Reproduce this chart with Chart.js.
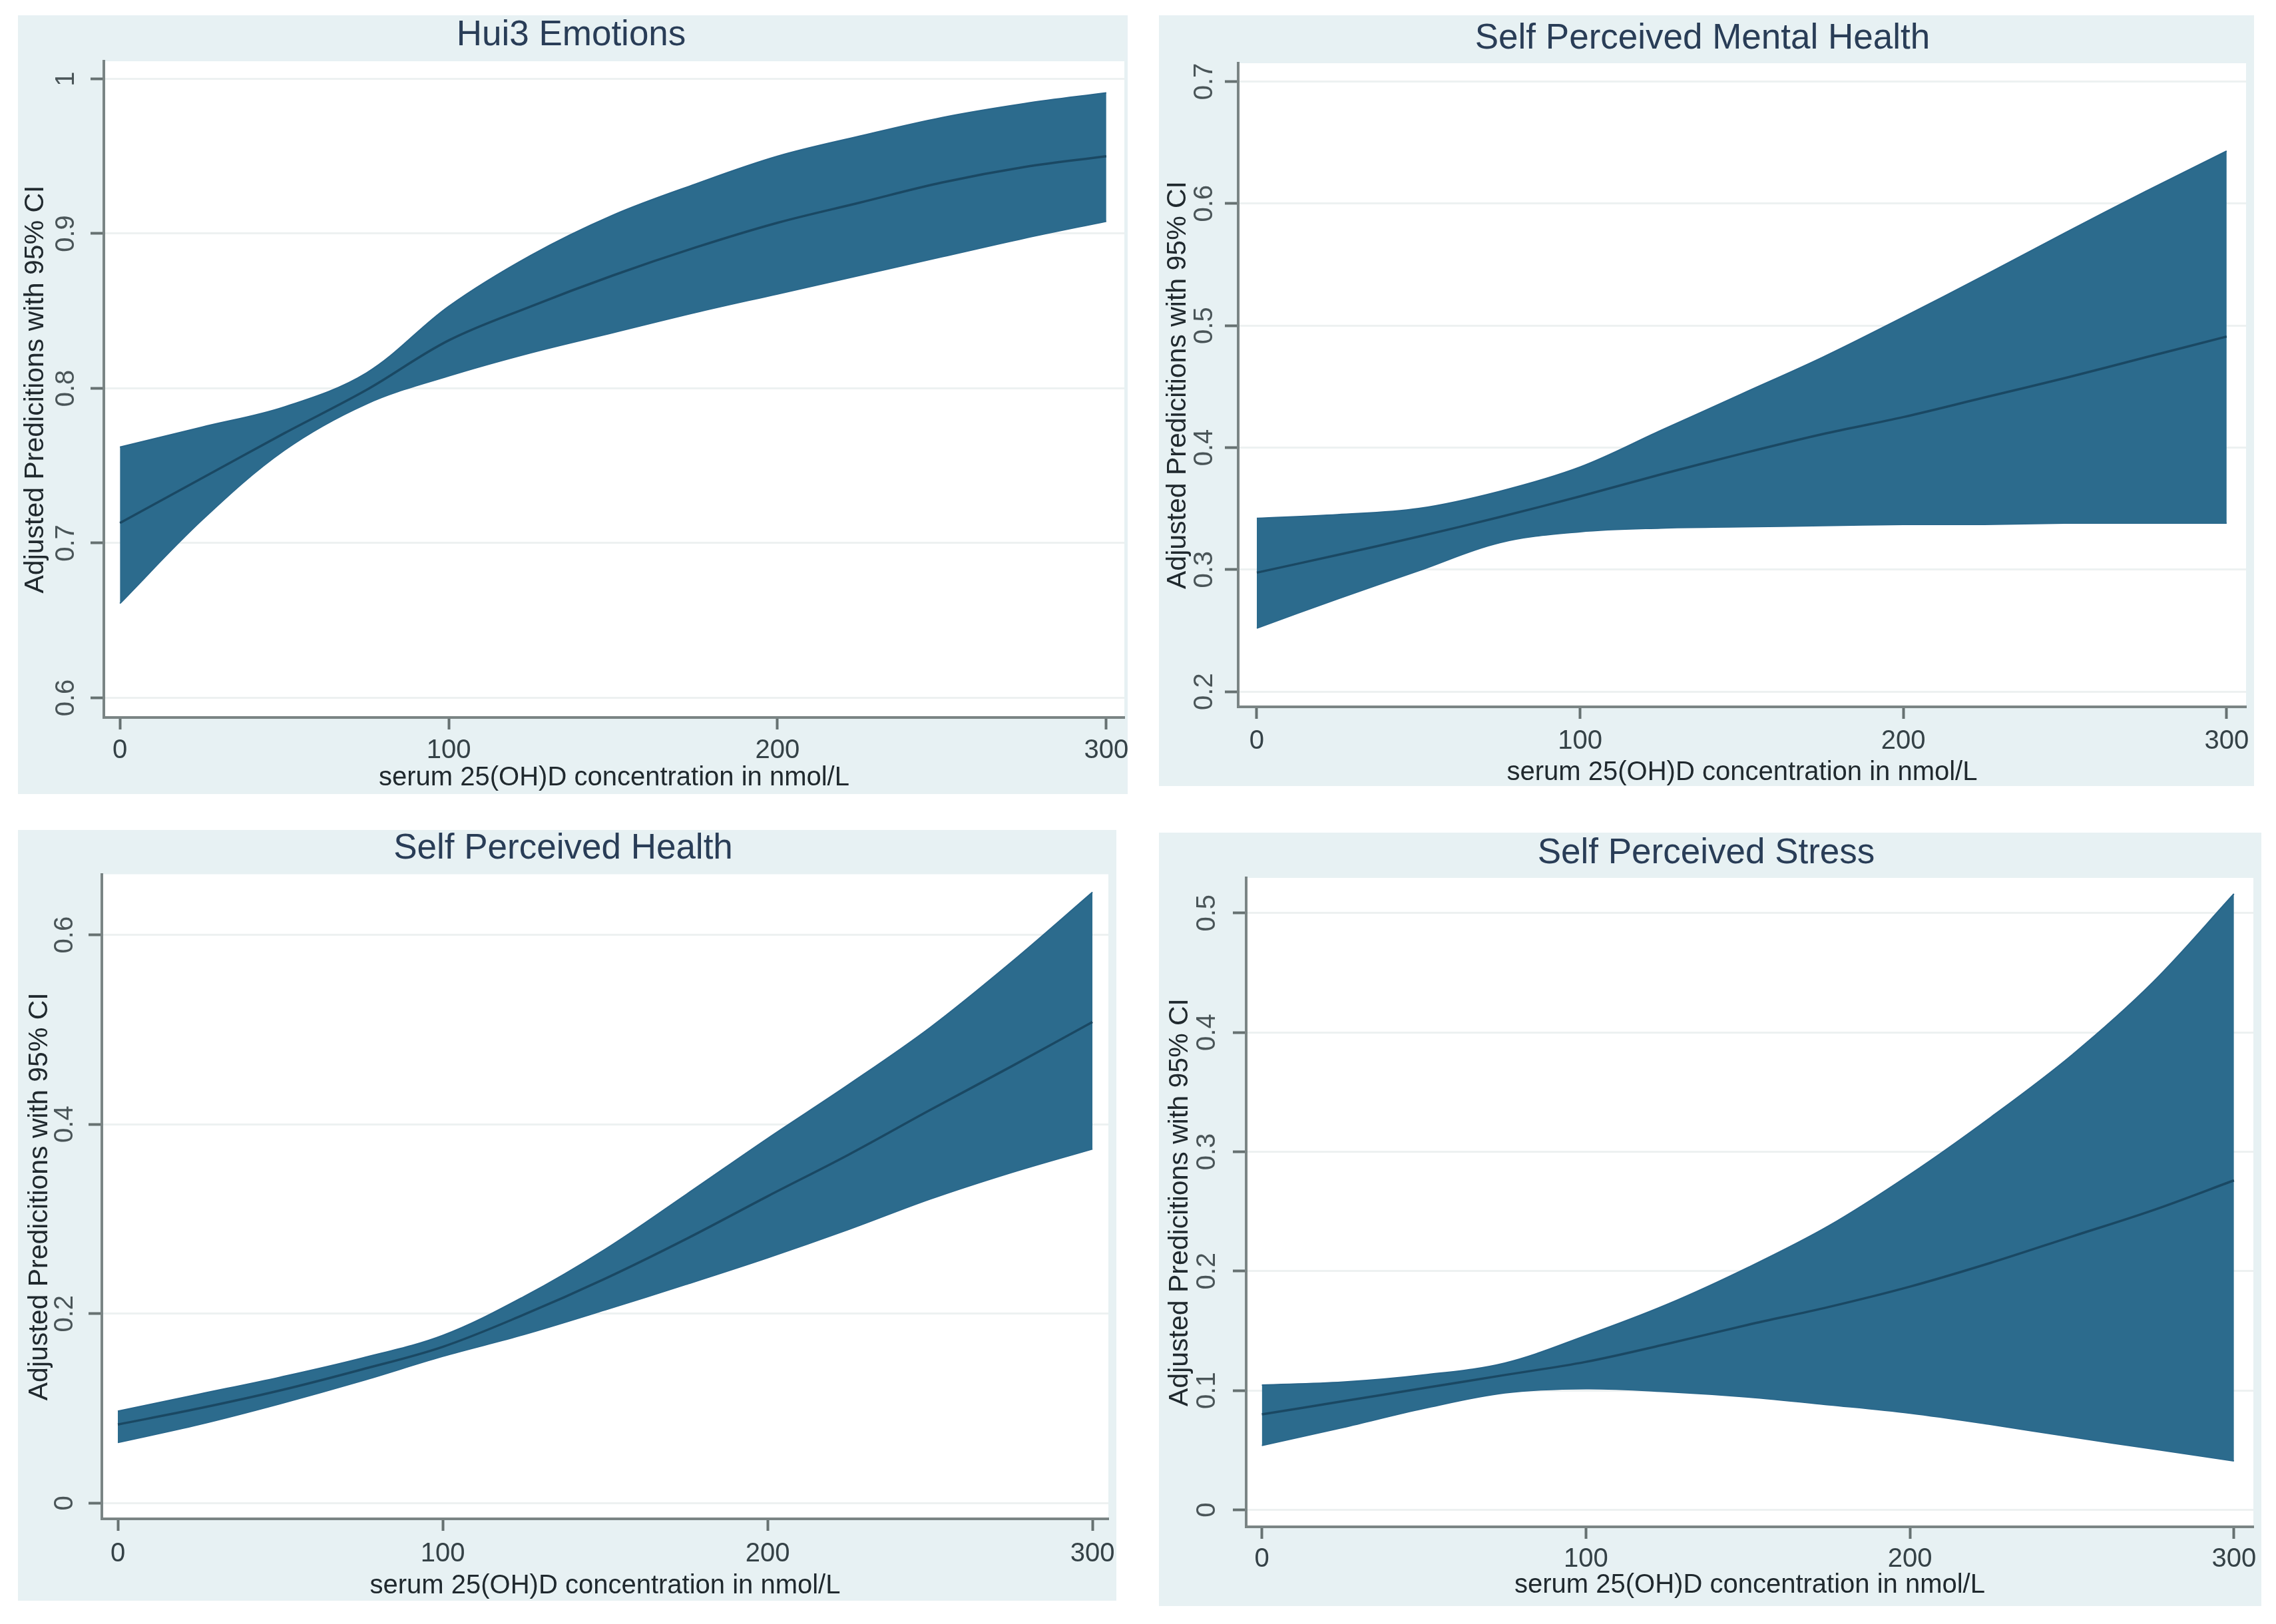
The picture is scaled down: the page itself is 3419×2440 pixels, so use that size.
<!DOCTYPE html>
<html><head><meta charset="utf-8">
<script src="https://cdn.jsdelivr.net/npm/chart.js@4.4.1/dist/chart.umd.min.js"></script>
<style>
html,body{margin:0;padding:0;background:#ffffff;}
body{width:3419px;height:2440px;position:relative;overflow:hidden;}
canvas{position:absolute;background:#e7f1f3;}
</style></head><body>
<canvas id="c1"></canvas>
<canvas id="c2"></canvas>
<canvas id="c3"></canvas>
<canvas id="c4"></canvas>
<script>
// ---- data ----
const xValues = [0, 25, 50, 75, 100, 125, 150, 175, 200, 225, 250, 275, 300];
const xTicks = [0, 100, 200, 300];

const hui3Mean  = [0.713, 0.742, 0.771, 0.799, 0.831, 0.853, 0.873, 0.891, 0.907, 0.920, 0.933, 0.943, 0.950];
const hui3Upper = [0.762, 0.775, 0.788, 0.810, 0.853, 0.886, 0.912, 0.932, 0.950, 0.963, 0.975, 0.984, 0.991];
const hui3Lower = [0.661, 0.715, 0.760, 0.790, 0.808, 0.823, 0.836, 0.849, 0.861, 0.873, 0.885, 0.897, 0.908];
const hui3Ticks = [0.6, 0.7, 0.8, 0.9, 1];

const mentalMean  = [0.2975, 0.312, 0.327, 0.343, 0.360, 0.378, 0.395, 0.411, 0.425, 0.441, 0.457, 0.474, 0.491];
const mentalUpper = [0.342, 0.345, 0.350, 0.364, 0.384, 0.414, 0.444, 0.474, 0.507, 0.541, 0.576, 0.610, 0.643];
const mentalLower = [0.252, 0.276, 0.299, 0.322, 0.331, 0.334, 0.335, 0.336, 0.337, 0.337, 0.338, 0.338, 0.338];
const mentalTicks = [0.2, 0.3, 0.4, 0.5, 0.6, 0.7];

const healthMean  = [0.083, 0.100, 0.119, 0.141, 0.165, 0.199, 0.237, 0.279, 0.324, 0.368, 0.415, 0.461, 0.508];
const healthUpper = [0.097, 0.115, 0.133, 0.153, 0.177, 0.218, 0.268, 0.326, 0.385, 0.442, 0.502, 0.571, 0.645];
const healthLower = [0.064, 0.083, 0.105, 0.129, 0.155, 0.178, 0.204, 0.231, 0.259, 0.289, 0.321, 0.349, 0.374];
const healthTicks = [0, 0.2, 0.4, 0.6];

const stressMean  = [0.080, 0.091, 0.102, 0.113, 0.124, 0.139, 0.155, 0.170, 0.187, 0.207, 0.229, 0.251, 0.276];
const stressUpper = [0.1045, 0.107, 0.113, 0.123, 0.146, 0.172, 0.203, 0.238, 0.281, 0.329, 0.381, 0.442, 0.516];
const stressLower = [0.054, 0.069, 0.085, 0.098, 0.1015, 0.099, 0.0945, 0.088, 0.081, 0.0715, 0.061, 0.051, 0.041];
const stressTicks = [0, 0.1, 0.2, 0.3, 0.4, 0.5];

const yAxisTitle = 'Adjusted Predicitions with 95% CI';
const xAxisTitle = 'serum 25(OH)D concentration in nmol/L';

// ---- panel layout ----
const panels = [
  {id:'c1', title:'Hui3 Emotions', mean:hui3Mean, upper:hui3Upper, lower:hui3Lower, yTicks:hui3Ticks,
   yMin:0.5873, yMax:1.0114, xMin:-4.9, xMax:305.5, box:[27,23,1667,1170], yW:129, xH:115, right:5,
   titlePad:[3.5,12.5], yTickPad:8, yTitlePad:6.5, xTickPad:12, xTitlePad:4},
  {id:'c2', title:'Self Perceived Mental Health', mean:mentalMean, upper:mentalUpper, lower:mentalLower, yTicks:mentalTicks,
   yMin:0.1875, yMax:0.715, xMin:-5.76, xMax:306, box:[1741,23,1645,1158], yW:119, xH:119, right:12,
   titlePad:[8.5,10.5], yTickPad:2, yTitlePad:8.5, xTickPad:14, xTitlePad:0},
  {id:'c3', title:'Self Perceived Health', mean:healthMean, upper:healthUpper, lower:healthLower, yTicks:healthTicks,
   yMin:-0.0166, yMax:0.664, xMin:-4.92, xMax:304.9, box:[27,1247,1650,1158], yW:126, xH:123, right:12,
   titlePad:[1.5,12], yTickPad:7, yTitlePad:12.5, xTickPad:15, xTitlePad:2},
  {id:'c4', title:'Self Perceived Stress', mean:stressMean, upper:stressUpper, lower:stressLower, yTicks:stressTicks,
   yMin:-0.0142, yMax:0.5294, xMin:-4.85, xMax:306, box:[1741,1251,1656,1162], yW:131, xH:119, right:12,
   titlePad:[4.5,10.5], yTickPad:10, yTitlePad:11.5, xTickPad:11, xTitlePad:11}
];

const FONT = "'Liberation Sans', Arial, Helvetica, sans-serif";
const BAND = '#2c6b8d';
const BAND_EDGE = '#28658a';
const LINE = '#1a4863';

const plotBg = {
  id: 'plotBg',
  beforeDraw(chart) {
    const a = chart.chartArea; const ctx = chart.ctx;
    ctx.save(); ctx.fillStyle = '#ffffff';
    ctx.fillRect(a.left, a.top, a.right - a.left, a.bottom - a.top);
    ctx.restore();
  }
};

function pts(arr) { return xValues.map((x, i) => ({x: x, y: arr[i]})); }
function fmt(v) { return String(Number(v.toFixed(2))); }

panels.forEach(p => {
  const cv = document.getElementById(p.id);
  cv.width = p.box[2]; cv.height = p.box[3];
  cv.style.left = p.box[0] + 'px'; cv.style.top = p.box[1] + 'px';
  cv.style.width = p.box[2] + 'px'; cv.style.height = p.box[3] + 'px';
  new Chart(cv, {
    type: 'line',
    data: {
      datasets: [
        {label:'mean', data: pts(p.mean), borderColor: LINE, borderWidth: 3.5, pointRadius: 0, fill: false, tension: 0.35},
        {label:'upper', data: pts(p.upper), borderColor: BAND_EDGE, borderWidth: 2, pointRadius: 0, backgroundColor: BAND, fill: '+1', tension: 0.35},
        {label:'lower', data: pts(p.lower), borderColor: BAND_EDGE, borderWidth: 2, pointRadius: 0, fill: false, tension: 0.35}
      ]
    },
    options: {
      responsive: false, animation: false, devicePixelRatio: 1,
      layout: {padding: {left: 0, right: p.right, top: 0, bottom: 0}},
      plugins: {
        legend: {display: false}, tooltip: {enabled: false},
        title: {display: true, text: p.title, color: '#293d57',
                font: {family: FONT, size: 53, weight: 'normal', lineHeight: 1},
                padding: {top: p.titlePad[0], bottom: p.titlePad[1]}}
      },
      scales: {
        x: {
          type: 'linear', min: p.xMin, max: p.xMax,
          afterBuildTicks: s => { s.ticks = xTicks.map(v => ({value: v})); },
          afterFit: s => { s.height = p.xH; s.paddingLeft = 0; s.paddingRight = 0; s.paddingTop = 0; s.paddingBottom = 0; },
          grid: {display: true, drawOnChartArea: false, drawTicks: true, tickLength: 18, tickColor: '#667171', tickWidth: 4},
          border: {display: true, color: '#7a8484', width: 4},
          ticks: {color: '#354247', padding: p.xTickPad, maxRotation: 0, autoSkip: false,
                  font: {family: FONT, size: 40, lineHeight: 1}, callback: v => fmt(v)},
          title: {display: true, text: xAxisTitle, color: '#20292e',
                  font: {family: FONT, size: 40, lineHeight: 1}, padding: {top: 0, bottom: p.xTitlePad}}
        },
        y: {
          type: 'linear', min: p.yMin, max: p.yMax,
          afterBuildTicks: s => { s.ticks = p.yTicks.map(v => ({value: v})); },
          afterFit: s => { s.width = p.yW; s.paddingLeft = 0; s.paddingRight = 0; s.paddingTop = 0; s.paddingBottom = 0; },
          grid: {display: true, drawOnChartArea: true, color: '#edf1f1', lineWidth: 3,
                 drawTicks: true, tickLength: 20, tickColor: '#667171', tickWidth: 4},
          border: {display: true, color: '#7a8484', width: 4},
          ticks: {color: '#4a5558', padding: p.yTickPad, minRotation: 90, maxRotation: 90, crossAlign: 'center', autoSkip: false,
                  font: {family: FONT, size: 40, lineHeight: 1}, callback: v => fmt(v)},
          title: {display: true, text: yAxisTitle, color: '#20292e',
                  font: {family: FONT, size: 41, lineHeight: 1}, padding: {top: p.yTitlePad, bottom: 0}}
        }
      }
    },
    plugins: [plotBg]
  });
});
</script>
</body></html>
